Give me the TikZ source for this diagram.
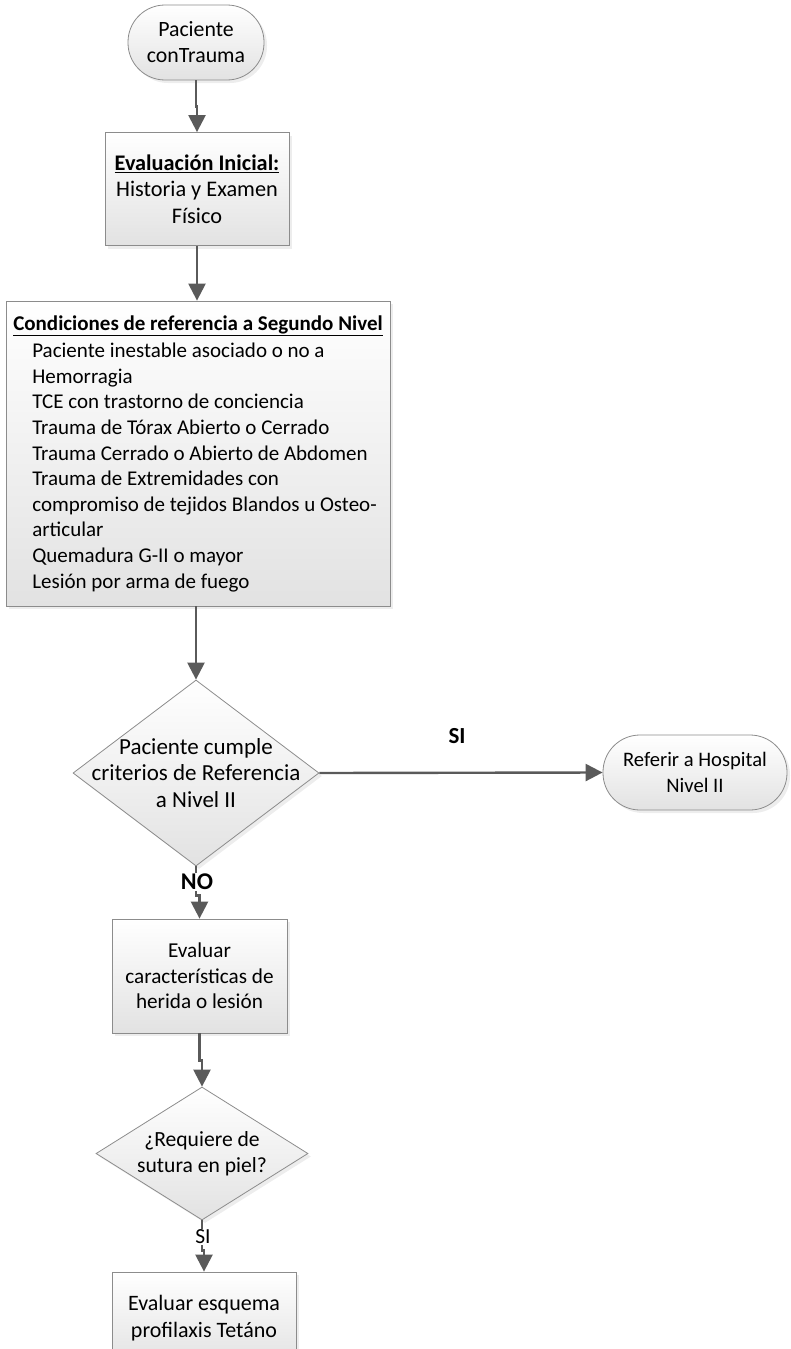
\documentclass[tikz,border=0pt]{standalone}
\usepackage{fontspec}
\setmainfont{Carlito}
\usetikzlibrary{shapes.geometric,arrows.meta,shadows}

\definecolor{edgegray}{HTML}{8C8C8C}
\definecolor{flowgray}{HTML}{5A5A5A}
\definecolor{fillgray}{HTML}{E2E2E2}

\begin{document}
\begin{tikzpicture}[x=1pt,y=-1pt,
  font=\fontsize{21.5}{26.5}\selectfont,
  shape base/.style={draw=edgegray, line width=0.8pt, top color=white,
    bottom color=fillgray, align=center, inner sep=0pt,
    drop shadow={shadow xshift=3pt, shadow yshift=-3pt, fill=black!14}},
  proc/.style={shape base, rectangle},
  term/.style={shape base, rectangle, rounded corners=37pt,
    minimum height=75pt},
  decision/.style={shape base, diamond},
  flow/.style={draw=flowgray, line width=2.4pt,
    -{Triangle[length=17pt,width=17pt]}},
  tag/.style={fill=white, inner sep=1pt}
]
\clip (0,0) rectangle (791,1349);

% nodes
\node[term, minimum width=136pt, font=\fontsize{21.8}{26}\selectfont]
  (start) at (196,42.5) {Paciente\\conTrauma};
\node[proc, minimum width=184pt, minimum height=113pt,
  font=\fontsize{22.3}{26.5}\selectfont] (eval) at (197,189)
  {\underline{\textbf{Evaluación Inicial:}}\\Historia y Examen\\Físico};
\node[proc, minimum width=384pt, minimum height=305pt, align=left,
  font=\fontsize{21}{25.6}\selectfont] (cond) at (198,453.5)
  {\underline{\textbf{Condiciones de referencia a Segundo Nivel}}\\[2pt]
   \hspace*{19pt}Paciente inestable asociado o no a\\
   \hspace*{19pt}Hemorragia\\
   \hspace*{19pt}TCE con trastorno de conciencia\\
   \hspace*{19pt}Trauma de Tórax Abierto o Cerrado\\
   \hspace*{19pt}Trauma Cerrado o Abierto de Abdomen\\
   \hspace*{19pt}Trauma de Extremidades con\\
   \hspace*{19pt}compromiso de tejidos Blandos u Osteo-\\
   \hspace*{19pt}articular\\
   \hspace*{19pt}Quemadura G-II o mayor\\
   \hspace*{19pt}Lesión por arma de fuego};
\node[decision, minimum width=246pt, minimum height=186pt,
  label={[align=center, font=\fontsize{23}{26.5}\selectfont]center:Paciente cumple\\criterios de Referencia\\a Nivel II}]
  (crit) at (196,773) {};
\node[term, minimum width=184pt, font=\fontsize{20.6}{26}\selectfont]
  (refer) at (695,772.5) {Referir a Hospital\\Nivel II};
\node[proc, minimum width=175pt, minimum height=114pt,
  font=\fontsize{21.2}{25.5}\selectfont] (wound) at (199.5,976)
  {Evaluar\\características de\\herida o lesión};
\node[decision, minimum width=212pt, minimum height=133pt,
  label={[align=center, font=\fontsize{21.6}{25.5}\selectfont]center:¿Requiere de\\sutura en piel?}]
  (suture) at (202,1153.5) {};
\node[proc, minimum width=184pt, minimum height=93pt,
  font=\fontsize{22}{27}\selectfont] (tetanus) at (204,1318.5)
  {Evaluar esquema\\profilaxis Tetáno};

% connectors
\draw[flow] (start.south) -- ++(0,26) -| (eval.north);
\draw[flow] (eval.south) -- (cond.north -| eval.south);
\draw[flow] (cond.south -| crit.north) -- (crit.north);
\draw[flow] (crit.east) -- (refer.west);
\node[font=\fontsize{23}{26}\bfseries] (yes1) at (457,736) {SI};
\draw[flow] (crit.south) -- ++(0,29) -| (wound.north);
\node[tag, font=\fontsize{24}{26}\bfseries] (no1) at (197,882) {NO};
\draw[flow] (wound.south) -- ++(0,27) -| (suture.north);
\draw[flow] (suture.south) -- ++(0,30) -| (tetanus.north);
\node[tag, font=\fontsize{21.5}{25}\selectfont] (yes2) at (203,1237) {SI};
\end{tikzpicture}
\end{document}
